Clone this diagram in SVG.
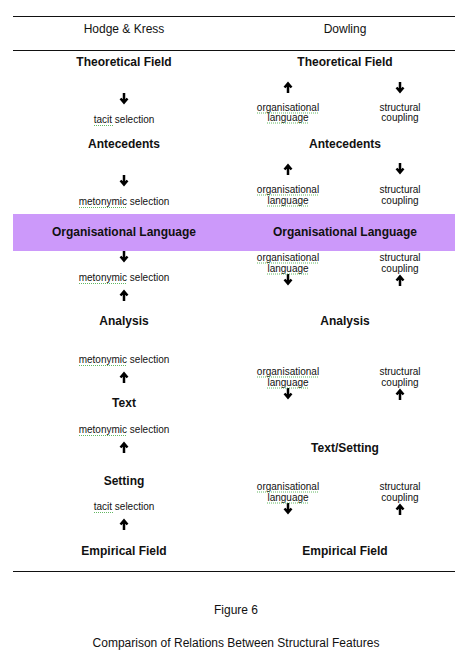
<svg xmlns="http://www.w3.org/2000/svg" xmlns:xlink="http://www.w3.org/1999/xlink" width="472" height="657" viewBox="0 0 472 657">
<style>
text{font-family:"Liberation Sans",Arial,sans-serif;fill:#111;text-anchor:middle}
.h{font-size:12px}
.b{font-size:12px;font-weight:bold}
.s{font-size:10px}
.c{font-size:12px}
.rule{stroke:#111;stroke-width:1}
.sq{fill:none;stroke:#3aa53a;stroke-width:0.8;stroke-dasharray:1 1}
</style>
<defs>
<path id="dn" d="M0,-5 V4 M-3.5,0.5 L0,4.5 L3.5,0.5" fill="none" stroke="#000" stroke-width="2.5" stroke-linejoin="miter"/>
<path id="up" d="M0,5 V-4 M-3.5,-0.5 L0,-4.5 L3.5,-0.5" fill="none" stroke="#000" stroke-width="2.5" stroke-linejoin="miter"/>
</defs>
<rect width="472" height="657" fill="#fff"/>
<line class="rule" x1="13" y1="16.5" x2="455" y2="16.5"/>
<line class="rule" x1="13" y1="50.5" x2="455" y2="50.5"/>
<line class="rule" x1="13" y1="571.5" x2="455" y2="571.5"/>
<rect id="band" x="13" y="214" width="442" height="37" fill="#cc99fa"/>
<g id="headers">
<text class="h" x="124" y="33">Hodge &amp; Kress</text>
<text class="h" x="345" y="33">Dowling</text>
</g>
<g id="left-nodes">
<g id="l-theoretical"><text class="b" x="124" y="66">Theoretical Field</text></g>
<g id="l-antecedents"><text class="b" x="124" y="148">Antecedents</text></g>
<g id="l-orglang"><text class="b" x="124" y="236">Organisational Language</text></g>
<g id="l-analysis"><text class="b" x="124" y="325">Analysis</text></g>
<g id="l-text"><text class="b" x="124" y="407">Text</text></g>
<g id="l-setting"><text class="b" x="124" y="485">Setting</text></g>
<g id="l-empirical"><text class="b" x="124" y="555">Empirical Field</text></g>
</g>
<g id="right-nodes">
<g id="r-theoretical"><text class="b" x="345" y="66">Theoretical Field</text></g>
<g id="r-antecedents"><text class="b" x="345" y="148">Antecedents</text></g>
<g id="r-orglang"><text class="b" x="345" y="236">Organisational Language</text></g>
<g id="r-analysis"><text class="b" x="345" y="325">Analysis</text></g>
<g id="r-textsetting"><text class="b" x="345" y="452">Text/Setting</text></g>
<g id="r-empirical"><text class="b" x="345" y="555">Empirical Field</text></g>
</g>
<g id="connectors">
<use xlink:href="#dn" x="124" y="98"/>
<use xlink:href="#dn" x="124" y="180"/>
<use xlink:href="#dn" x="124" y="256"/>
<use xlink:href="#up" x="124" y="296"/>
<use xlink:href="#up" x="124" y="378"/>
<use xlink:href="#up" x="124" y="448"/>
<use xlink:href="#up" x="124" y="525"/>
<use xlink:href="#up" x="288" y="88"/>
<use xlink:href="#dn" x="400" y="87"/>
<use xlink:href="#up" x="288" y="170"/>
<use xlink:href="#dn" x="400" y="168"/>
<use xlink:href="#dn" x="288" y="279"/>
<use xlink:href="#up" x="400" y="281"/>
<use xlink:href="#dn" x="288" y="393"/>
<use xlink:href="#up" x="400" y="395"/>
<use xlink:href="#dn" x="288" y="508"/>
<use xlink:href="#up" x="400" y="510"/>
</g>
<g id="labels">
<text class="s" x="124" y="123">tacit selection</text>
<text class="s" x="124" y="205">metonymic selection</text>
<text class="s" x="124" y="281">metonymic selection</text>
<text class="s" x="124" y="363">metonymic selection</text>
<text class="s" x="124" y="433">metonymic selection</text>
<text class="s" x="124" y="510">tacit selection</text>
<text class="s" x="288" y="111">organisational</text>
<text class="s" x="288" y="121">language</text>
<text class="s" x="400" y="111">structural</text>
<text class="s" x="400" y="121">coupling</text>
<text class="s" x="288" y="193">organisational</text>
<text class="s" x="288" y="204">language</text>
<text class="s" x="400" y="193">structural</text>
<text class="s" x="400" y="204">coupling</text>
<text class="s" x="288" y="261">organisational</text>
<text class="s" x="288" y="272">language</text>
<text class="s" x="400" y="261">structural</text>
<text class="s" x="400" y="272">coupling</text>
<text class="s" x="288" y="375">organisational</text>
<text class="s" x="288" y="386">language</text>
<text class="s" x="400" y="375">structural</text>
<text class="s" x="400" y="386">coupling</text>
<text class="s" x="288" y="490">organisational</text>
<text class="s" x="288" y="501">language</text>
<text class="s" x="400" y="490">structural</text>
<text class="s" x="400" y="501">coupling</text>
</g>
<g id="squiggles">
<path class="sq" d="M94,125.5 H113"/>
<path class="sq" d="M79,207.5 H127"/>
<path class="sq" d="M79,283.5 H127"/>
<path class="sq" d="M79,365.5 H127"/>
<path class="sq" d="M79,435.5 H127"/>
<path class="sq" d="M94,512.5 H113"/>
<path class="sq" d="M257,113 H319 M267,123 H308"/>
<path class="sq" d="M257,195 H319 M267,206 H308"/>
<path class="sq" d="M257,263 H319 M267,274 H308"/>
<path class="sq" d="M257,377 H319 M267,388 H308"/>
<path class="sq" d="M257,492 H319 M267,503 H308"/>
</g>
<g id="caption">
<text class="c" x="236" y="614">Figure 6</text>
<text class="c" x="236" y="647">Comparison of Relations Between Structural Features</text>
</g>
</svg>
